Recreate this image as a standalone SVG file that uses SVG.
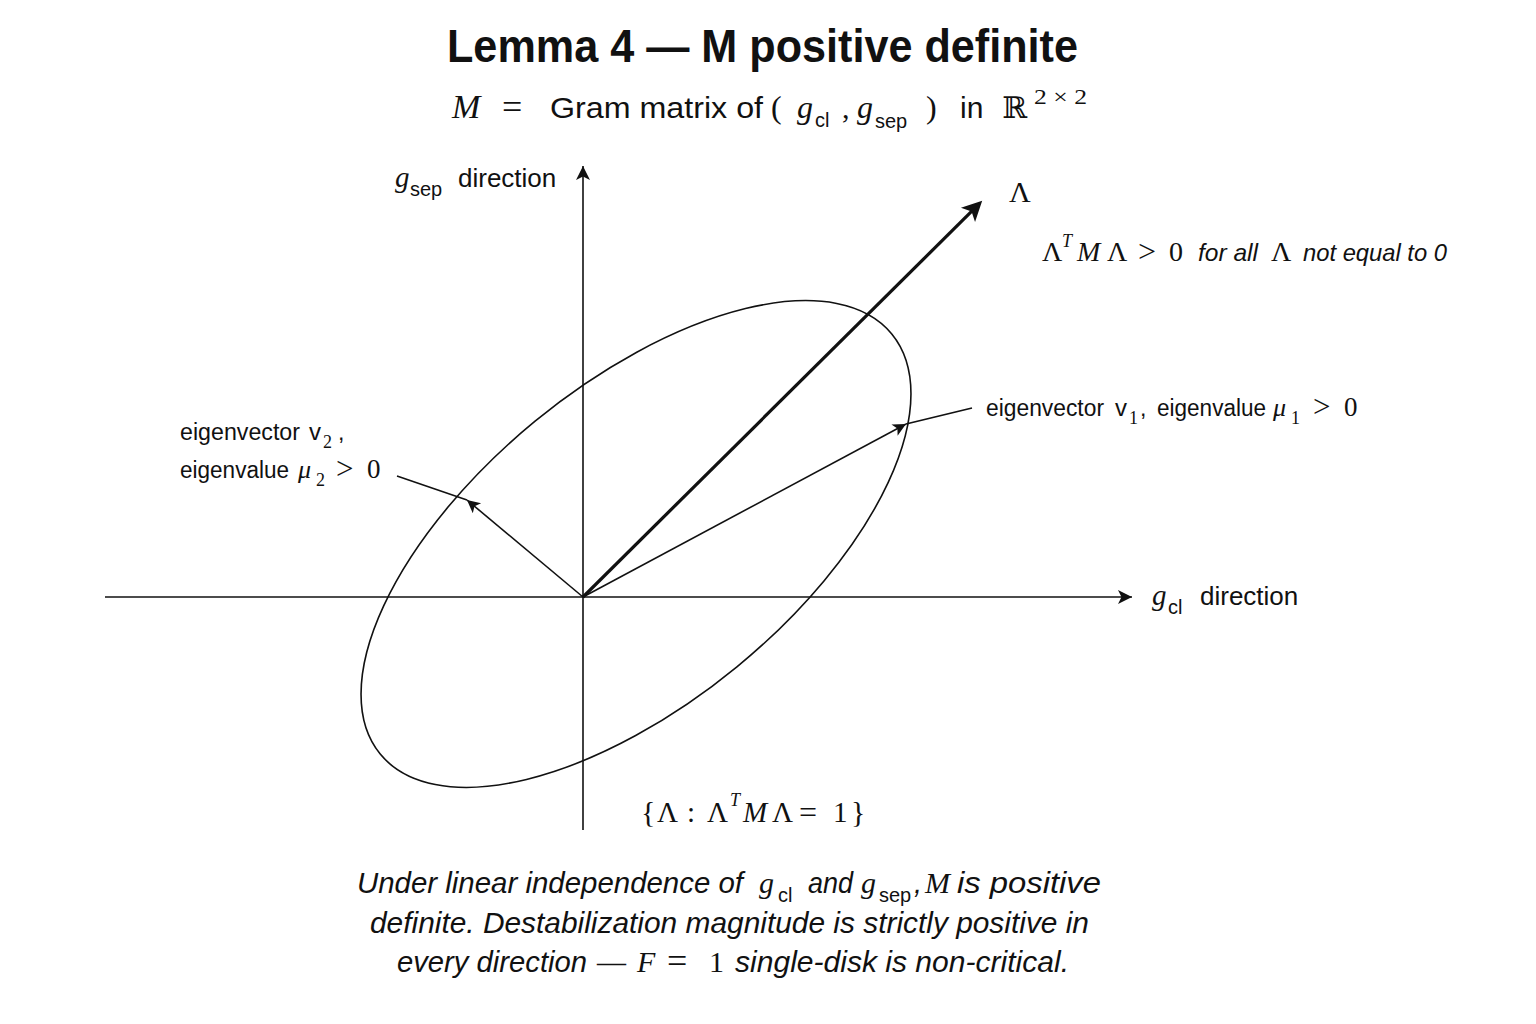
<svg xmlns="http://www.w3.org/2000/svg" width="1536" height="1024" viewBox="0 0 1536 1024">
<style>
.sans{font-family:"Liberation Sans",Arial,sans-serif;fill:#111}
.si{font-family:"Liberation Sans",Arial,sans-serif;font-style:italic;fill:#111}
.ser{font-family:"Liberation Serif","Times New Roman",serif;fill:#111}
.mi{font-family:"Liberation Serif","Times New Roman",serif;font-style:italic;fill:#111}
.bb{font-family:"DejaVu Serif","DejaVu Sans",serif;fill:#111}
.ln{stroke:#111;stroke-width:1.6;fill:none}
</style>
<defs>
<marker id="ahAxis" viewBox="0 0 10 10" refX="10" refY="5" markerWidth="20" markerHeight="14" markerUnits="userSpaceOnUse" orient="auto"><path d="M0,0 L10,5 L0,10 L2.5,5 z" fill="#111"/></marker>
<marker id="ahBig" viewBox="0 0 10 10" refX="5" refY="5" markerWidth="28" markerHeight="20" markerUnits="userSpaceOnUse" orient="auto"><path d="M0,0 L10,5 L0,10 L2.5,5 z" fill="#111"/></marker>
<marker id="ahSm" viewBox="0 0 10 10" refX="10" refY="5" markerWidth="19" markerHeight="13" markerUnits="userSpaceOnUse" orient="auto"><path d="M0,0 L10,5 L0,10 L2.5,5 z" fill="#111"/></marker>
</defs>
<rect width="1536" height="1024" fill="#ffffff"/>

<g id="title">
<text class="sans" x="447" y="62" font-size="46" font-weight="bold" textLength="631" lengthAdjust="spacingAndGlyphs">Lemma 4 — M positive definite</text>
</g>

<g id="subtitle">
<text class="mi" x="452" y="118" font-size="34">M</text>
<text class="ser" x="502" y="119" font-size="36">=</text>
<text class="sans" x="550" y="118" font-size="30" textLength="213" lengthAdjust="spacingAndGlyphs">Gram matrix of</text>
<text class="ser" x="771" y="118" font-size="32">(</text>
<text class="mi" x="797" y="118" font-size="32">g</text>
<text class="sans" x="815" y="127" font-size="20">cl</text>
<text class="ser" x="842" y="118" font-size="30">,</text>
<text class="mi" x="857" y="118" font-size="32">g</text>
<text class="sans" x="875" y="128" font-size="20">sep</text>
<text class="ser" x="926" y="118" font-size="32">)</text>
<text class="sans" x="960" y="118" font-size="30">in</text>
<text class="bb" x="1002" y="118" font-size="30">ℝ</text>
<text class="ser" x="1034" y="104" font-size="22" textLength="53" lengthAdjust="spacingAndGlyphs">2 × 2</text>
</g>

<g id="connectors">
<line class="ln" x1="105" y1="597" x2="1132" y2="597" marker-end="url(#ahAxis)"/>
<line class="ln" x1="583" y1="830" x2="583" y2="166" marker-end="url(#ahAxis)"/>
<ellipse class="ln" cx="636" cy="544" rx="331" ry="159" transform="rotate(-39.4 636 544)"/>
<line x1="583" y1="597" x2="975.1" y2="207.9" stroke="#111" stroke-width="3.2" marker-end="url(#ahBig)"/>
<line class="ln" x1="583" y1="597" x2="906" y2="424" marker-end="url(#ahSm)"/>
<line class="ln" x1="583" y1="597" x2="467" y2="500" marker-end="url(#ahSm)"/>
<line class="ln" x1="397" y1="476" x2="467" y2="500"/>
<line class="ln" x1="972" y1="408" x2="906" y2="424"/>
</g>

<g id="label-gsep">
<text class="mi" x="395" y="187" font-size="29">g</text>
<text class="sans" x="410" y="196" font-size="20">sep</text>
<text class="sans" x="458" y="187" font-size="26">direction</text>
</g>

<g id="label-gcl">
<text class="mi" x="1152" y="605" font-size="29">g</text>
<text class="sans" x="1168" y="614" font-size="20">cl</text>
<text class="sans" x="1200" y="605" font-size="26">direction</text>
</g>

<g id="label-lambda">
<text class="ser" x="1009" y="202" font-size="30">Λ</text>
</g>

<g id="label-pd">
<text class="ser" x="1042" y="261" font-size="28">Λ</text>
<text class="mi" x="1062" y="247" font-size="18">T</text>
<text class="mi" x="1077" y="261" font-size="28">M</text>
<text class="ser" x="1107" y="261" font-size="28">Λ</text>
<text class="ser" x="1138" y="262" font-size="32">&gt;</text>
<text class="ser" x="1169" y="261" font-size="28">0</text>
<text class="si" x="1198" y="261" font-size="24" textLength="60" lengthAdjust="spacingAndGlyphs">for all</text>
<text class="ser" x="1271" y="261" font-size="28">Λ</text>
<text class="si" x="1303" y="261" font-size="24" textLength="144" lengthAdjust="spacingAndGlyphs">not equal to 0</text>
</g>

<g id="label-v2">
<text class="sans" x="180" y="440" font-size="23" textLength="120" lengthAdjust="spacingAndGlyphs">eigenvector</text>
<text class="sans" x="309" y="440" font-size="24">v</text>
<text class="ser" x="323" y="448" font-size="18">2</text>
<text class="sans" x="338" y="440" font-size="23">,</text>
<text class="sans" x="180" y="478" font-size="23" textLength="109" lengthAdjust="spacingAndGlyphs">eigenvalue</text>
<text class="mi" x="298" y="478" font-size="26">μ</text>
<text class="ser" x="316" y="486" font-size="18">2</text>
<text class="ser" x="336" y="479" font-size="31">&gt;</text>
<text class="ser" x="367" y="478" font-size="27">0</text>
</g>

<g id="label-v1">
<text class="sans" x="986" y="416" font-size="23" textLength="118" lengthAdjust="spacingAndGlyphs">eigenvector</text>
<text class="sans" x="1115" y="416" font-size="24">v</text>
<text class="ser" x="1129" y="424" font-size="18">1</text>
<text class="sans" x="1140" y="416" font-size="23">,</text>
<text class="sans" x="1157" y="416" font-size="23" textLength="109" lengthAdjust="spacingAndGlyphs">eigenvalue</text>
<text class="mi" x="1273" y="416" font-size="26">μ</text>
<text class="ser" x="1291" y="424" font-size="18">1</text>
<text class="ser" x="1313" y="417" font-size="31">&gt;</text>
<text class="ser" x="1344" y="416" font-size="27">0</text>
</g>

<g id="label-levelset">
<text class="ser" x="641" y="822" font-size="30">{</text>
<text class="ser" x="657" y="822" font-size="29">Λ</text>
<text class="ser" x="687" y="822" font-size="29">:</text>
<text class="ser" x="707" y="822" font-size="29">Λ</text>
<text class="mi" x="730" y="806" font-size="18">T</text>
<text class="mi" x="743" y="822" font-size="29">M</text>
<text class="ser" x="772" y="822" font-size="29">Λ</text>
<text class="ser" x="799" y="823" font-size="32">=</text>
<text class="ser" x="833" y="822" font-size="29">1</text>
<text class="ser" x="851" y="822" font-size="30">}</text>
</g>

<g id="caption">
<text class="si" x="357" y="893" font-size="29" textLength="386" lengthAdjust="spacingAndGlyphs">Under linear independence of</text>
<text class="mi" x="759" y="893" font-size="30">g</text>
<text class="sans" x="778" y="902" font-size="20">cl</text>
<text class="si" x="808" y="893" font-size="29" textLength="45" lengthAdjust="spacingAndGlyphs">and</text>
<text class="mi" x="861" y="893" font-size="30">g</text>
<text class="sans" x="879" y="902" font-size="20">sep</text>
<text class="si" x="914" y="893" font-size="29">,</text>
<text class="mi" x="925" y="893" font-size="30">M</text>
<text class="si" x="957" y="893" font-size="29" textLength="144" lengthAdjust="spacingAndGlyphs">is positive</text>
<text class="si" x="370" y="933" font-size="29" textLength="719" lengthAdjust="spacingAndGlyphs">definite. Destabilization magnitude is strictly positive in</text>
<text class="si" x="397" y="972" font-size="29" textLength="190" lengthAdjust="spacingAndGlyphs">every direction</text>
<text class="ser" x="597" y="972" font-size="29" textLength="29" lengthAdjust="spacingAndGlyphs">—</text>
<text class="mi" x="637" y="972" font-size="30">F</text>
<text class="ser" x="667" y="973" font-size="36">=</text>
<text class="ser" x="709" y="972" font-size="30">1</text>
<text class="si" x="735" y="972" font-size="29" textLength="334" lengthAdjust="spacingAndGlyphs">single-disk is non-critical.</text>
</g>
</svg>
